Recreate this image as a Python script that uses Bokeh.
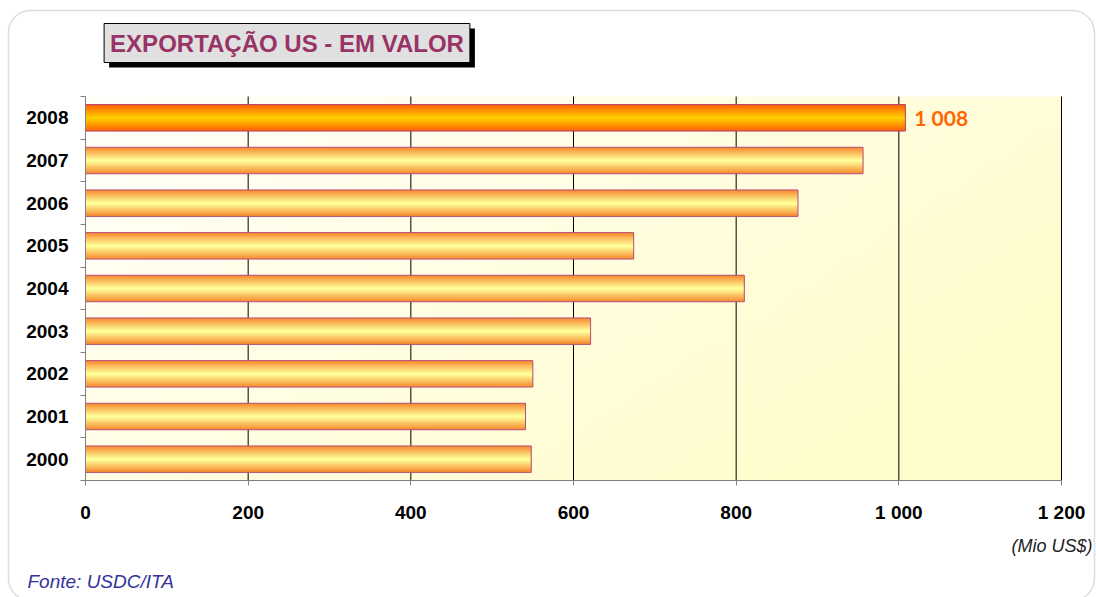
import numpy as np
from bokeh.plotting import figure
from bokeh.models import FixedTicker, Label, Range1d, ColumnDataSource, BoxAnnotation
from bokeh.embed import file_html
from bokeh.resources import INLINE

# ---- data ----
years = ["2000", "2001", "2002", "2003", "2004", "2005", "2006", "2007", "2008"]
values = [548, 541, 550, 621, 810, 674, 876, 956, 1008]
x_ticks = [0, 200, 400, 600, 800, 1000, 1200]
x_tick_labels = ["0", "200", "400", "600", "800", "1 000", "1 200"]
title_text = "EXPORTAÇÃO US - EM VALOR"
unit_text = "(Mio US$)"
source_text = "Fonte: USDC/ITA"
highlight_text = "1 008"

FONT = "Liberation Sans"
W, H = 1096, 597
OX, OY = 0, 0            # page offset of canvas (observed)
n = len(years)
idx = list(range(n))
XMAX = x_ticks[-1]

# layout of the plotting area in page pixels
PL, PR, PT, PB = 85, 1061, 96, 480
sx = (PR - PL) / XMAX
sy = (PB - PT) / n
def dx(px):   # page px -> data x
    return (px - PL) / sx
def dy(py):   # page py -> data y
    return (PB - py) / sy - 0.5

p = figure(width=W, height=H,
           x_range=Range1d(dx(OX), dx(OX + W)), y_range=Range1d(dy(OY + H), dy(OY)),
           output_backend="svg", toolbar_location=None, min_border=0)
p.min_border_left = p.min_border_right = p.min_border_top = p.min_border_bottom = 0
p.outline_line_color = None
p.background_fill_color = "white"
p.border_fill_color = "white"
p.xgrid.visible = False
p.ygrid.visible = False

# outer rounded frame
p.add_layout(BoxAnnotation(left=dx(8), right=dx(1094), top=dy(10), bottom=dy(600),
                           fill_color=None, line_color="#8f8f8f", line_width=1.5,
                           border_radius=22, level="underlay"))

# background gradient of plot area
ny, nx = 60, 120
gx, gy = np.meshgrid(np.linspace(0, 1, nx), np.linspace(0, 1, ny))
t = np.clip((gx * 0.75 + (1 - gy) * 0.45), 0, 1)
c0 = np.array([255, 255, 250]); c1 = np.array([255, 252, 204])
img = np.empty((ny, nx), dtype=np.uint32)
view = img.view(dtype=np.uint8).reshape((ny, nx, 4))
for k in range(3):
    view[:, :, k] = (c0[k] + (c1[k] - c0[k]) * t).astype(np.uint8)
view[:, :, 3] = 255
p.image_rgba(image=[img], x=0, y=-0.5, dw=XMAX, dh=n)

# vertical grid lines
grid_x = x_ticks[1:]
p.segment(x0=grid_x, x1=grid_x, y0=[-0.5] * len(grid_x), y1=[n - 0.5] * len(grid_x),
          line_color="black", line_width=1)

# bars with vertical gradient (stacked layers)
BAR_H = 0.62
NL = 12
def lerp(a, b, s):
    return "#%02x%02x%02x" % tuple(int(round(a[i] + (b[i] - a[i]) * s)) for i in range(3))

normal_edge, normal_center = (247, 140, 50), (255, 255, 153)
hi_edge, hi_center = (255, 100, 0), (255, 204, 0)

src_n = ColumnDataSource(dict(y=idx[:-1], right=values[:-1]))
src_h = ColumnDataSource(dict(y=idx[-1:], right=values[-1:]))
for k in range(NL):
    s = k / (NL - 1)
    h = BAR_H * (1 - k / NL)
    p.hbar(y="y", right="right", left=0, height=h, source=src_n,
           fill_color=lerp(normal_edge, normal_center, s), line_color=None)
    p.hbar(y="y", right="right", left=0, height=h, source=src_h,
           fill_color=lerp(hi_edge, hi_center, s), line_color=None)
p.hbar(y="y", right="right", left=0, height=BAR_H, source=src_n,
       fill_color=None, line_color="#b4507a", line_width=1)
p.hbar(y="y", right="right", left=0, height=BAR_H, source=src_h,
       fill_color=None, line_color="#b4406a", line_width=1)

# axes placed at fixed data locations inside the frame
xa = p.xaxis[0]
xa.fixed_location = -0.5
xa.bounds = (0, XMAX)
xa.ticker = FixedTicker(ticks=x_ticks)
xa.major_label_overrides = dict(zip(x_ticks, x_tick_labels))
xa.axis_line_color = "#808080"
xa.major_tick_line_color = "#808080"
xa.major_tick_out = 5
xa.major_tick_in = 0
xa.minor_tick_line_color = None
xa.major_label_standoff = 16
xa.major_label_text_font = FONT
xa.major_label_text_font_style = "bold"
xa.major_label_text_font_size = "19px"
xa.major_label_text_color = "black"

ya = p.yaxis[0]
ya.fixed_location = 0
ya.bounds = (-0.5, n - 0.5)
ya.ticker = FixedTicker(ticks=idx, minor_ticks=[i - 0.5 for i in range(n + 1)])
ya.major_label_overrides = dict(zip(idx, years))
ya.axis_line_color = "#808080"
ya.major_tick_out = 0
ya.major_tick_in = 0
ya.minor_tick_out = 5
ya.minor_tick_in = 0
ya.minor_tick_line_color = "#808080"
ya.major_label_standoff = 12
ya.major_label_text_font = FONT
ya.major_label_text_font_style = "bold"
ya.major_label_text_font_size = "19px"
ya.major_label_text_color = "black"

# title box with shadow
title_kw = dict(text=title_text, text_align="center", text_baseline="middle",
                text_font=FONT, text_font_style="bold", text_font_size="24px", padding=6)
tcx, tcy = 286.5, 42.5
p.add_layout(Label(x=dx(tcx + 5), y=dy(tcy + 5), text_color="black",
                   background_fill_color="black", **title_kw))
p.add_layout(Label(x=dx(tcx), y=dy(tcy), text_color="#993366", background_fill_color="#e0e0e0",
                   border_line_color="black", border_line_width=1, **title_kw))

# highlight value label
p.add_layout(Label(x=values[-1], y=idx[-1], x_offset=9, text=highlight_text, text_align="left",
                   text_baseline="middle", text_font="Lato", text_font_style="bold",
                   text_font_size="21px", text_color="#ff6600"))

# unit + source
p.add_layout(Label(x=dx(1092), y=dy(545), text=unit_text, text_align="right", text_baseline="middle",
                   text_font=FONT, text_font_style="italic", text_font_size="18px",
                   text_color="#222222"))
p.add_layout(Label(x=dx(27), y=dy(581), text=source_text, text_align="left", text_baseline="middle",
                   text_font=FONT, text_font_style="italic", text_font_size="19px",
                   text_color="#333399"))

open("out.html", "w").write(file_html(p, INLINE))
